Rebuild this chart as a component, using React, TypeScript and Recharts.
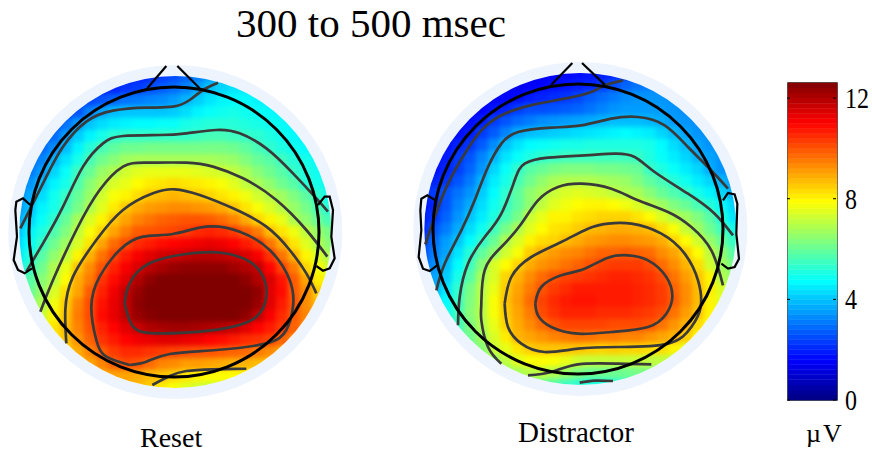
import React from 'react';
import { Bar, BarChart, ReferenceArea, ReferenceDot, Scatter, ScatterChart, XAxis, YAxis } from 'recharts';

const _ = null;

// µV values, one row per 36 scalp units, top row first
const resetGridX = [55, 91, 127, 163, 199, 235, 271, 307, 343, 379, 415, 451, 487, 523, 559, 595, 631, 667, 703, 739, 775, 811, 847, 883, 919, 955, 991];
const resetGridY = [78, 114, 150, 186, 222, 258, 294, 330, 366, 402, 438, 474, 510, 546, 582, 618, 654, 690, 726, 762, 798, 834, 870, 906, 942, 978, 1014];
const resetRows = [
  [_, _, _, _, _, _, _, _, 1.8, 1.9, 2.0, 2.1, 2.3, 2.5, 2.8, 3.1, 3.5, 3.9, 4.2, _, _, _, _, _, _, _, _],
  [_, _, _, _, _, _, 1.7, 1.9, 2.0, 2.2, 2.3, 2.5, 2.7, 2.9, 3.2, 3.6, 4.0, 4.2, 4.4, 4.5, 4.6, _, _, _, _, _, _],
  [_, _, _, _, _, 2.1, 2.4, 2.6, 2.8, 3.0, 3.1, 3.2, 3.3, 3.5, 3.8, 4.1, 4.4, 4.6, 4.7, 4.7, 4.6, 4.5, _, _, _, _, _],
  [_, _, _, _, 2.2, 2.6, 3.2, 3.6, 3.9, 4.0, 4.0, 4.0, 4.0, 4.1, 4.3, 4.6, 4.8, 4.9, 5.0, 4.9, 4.8, 4.7, 4.6, _, _, _, _],
  [_, _, _, 2.3, 3.0, 3.5, 4.0, 4.3, 4.5, 4.6, 4.7, 4.7, 4.8, 4.8, 5.0, 5.1, 5.2, 5.2, 5.2, 5.1, 5.0, 4.9, 4.8, 4.6, _, _, _],
  [_, _, 2.4, 2.9, 3.5, 4.1, 4.6, 5.0, 5.3, 5.4, 5.4, 5.4, 5.4, 5.4, 5.4, 5.5, 5.6, 5.6, 5.5, 5.4, 5.3, 5.1, 4.9, 4.7, 4.5, _, _],
  [_, 2.4, 2.9, 3.3, 3.9, 4.6, 5.2, 5.6, 5.9, 6.1, 6.1, 6.2, 6.2, 6.2, 6.2, 6.2, 6.2, 6.2, 6.1, 5.9, 5.6, 5.3, 5.1, 4.9, 4.7, 4.5, _],
  [_, 2.8, 3.2, 3.8, 4.4, 5.0, 5.6, 6.1, 6.4, 6.7, 6.8, 6.8, 6.8, 6.8, 6.8, 6.8, 6.8, 6.7, 6.6, 6.3, 6.0, 5.8, 5.5, 5.2, 5.0, 4.7, _],
  [2.6, 3.1, 3.5, 4.2, 4.8, 5.5, 6.0, 6.6, 6.9, 7.3, 7.5, 7.6, 7.6, 7.6, 7.6, 7.5, 7.4, 7.3, 7.1, 6.8, 6.4, 6.1, 5.8, 5.4, 5.1, 4.9, 4.7],
  [2.9, 3.4, 4.0, 4.6, 5.0, 5.7, 6.4, 6.9, 7.4, 7.6, 7.9, 8.1, 8.2, 8.3, 8.2, 8.1, 8.0, 7.8, 7.5, 7.1, 6.8, 6.5, 6.1, 5.8, 5.2, 5.0, 4.7],
  [3.2, 3.7, 4.3, 4.9, 5.4, 6.0, 6.6, 7.3, 7.8, 8.0, 8.3, 8.6, 8.7, 8.8, 8.7, 8.6, 8.4, 8.2, 8.0, 7.7, 7.3, 7.0, 6.7, 6.3, 5.9, 5.3, 4.9],
  [3.5, 3.9, 4.6, 5.0, 5.6, 6.2, 6.9, 7.5, 8.1, 8.6, 8.9, 9.1, 9.2, 9.3, 9.3, 9.2, 9.1, 8.9, 8.6, 8.2, 7.8, 7.4, 7.0, 6.6, 6.2, 5.6, 5.2],
  [3.7, 4.2, 4.8, 5.3, 6.0, 6.8, 7.4, 8.0, 8.6, 9.0, 9.4, 9.6, 9.8, 9.9, 10.0, 10.0, 9.9, 9.7, 9.4, 8.9, 8.4, 8.0, 7.6, 6.9, 6.5, 6.0, 5.6],
  [4.0, 4.6, 5.1, 5.7, 6.3, 7.1, 7.8, 8.4, 9.0, 9.5, 9.9, 10.0, 10.1, 10.2, 10.3, 10.5, 10.6, 10.5, 10.3, 9.9, 9.5, 8.7, 8.2, 7.7, 7.1, 6.6, 6.2],
  [4.3, 4.8, 5.4, 6.1, 6.7, 7.4, 8.2, 9.0, 9.7, 10.1, 10.5, 10.7, 10.9, 11.0, 11.1, 11.2, 11.3, 11.2, 11.0, 10.7, 10.4, 9.6, 8.9, 8.2, 7.5, 6.9, 6.4],
  [4.5, 5.1, 5.8, 6.5, 7.1, 8.0, 8.8, 9.6, 10.2, 10.7, 11.1, 11.4, 11.6, 11.7, 11.8, 11.9, 11.9, 11.8, 11.7, 11.5, 11.1, 10.4, 9.6, 8.8, 8.0, 7.4, 6.9],
  [4.7, 5.4, 6.1, 6.9, 7.6, 8.6, 9.3, 10.0, 10.6, 11.1, 11.5, 11.9, 12.1, 12.3, 12.4, 12.4, 12.4, 12.4, 12.2, 12.0, 11.8, 11.0, 10.2, 9.5, 8.4, 7.8, 7.3],
  [5.0, 5.8, 6.4, 7.0, 7.9, 8.9, 9.5, 10.4, 10.9, 11.4, 12.0, 12.4, 12.6, 12.6, 12.6, 12.6, 12.6, 12.6, 12.6, 12.4, 12.0, 11.5, 10.8, 9.9, 9.0, 8.1, 7.6],
  [5.6, 6.0, 6.6, 7.4, 8.3, 9.0, 9.9, 10.6, 11.2, 11.8, 12.3, 12.6, 12.6, 12.6, 12.6, 12.6, 12.6, 12.6, 12.6, 12.6, 12.4, 11.4, 10.9, 9.9, 9.3, 8.5, 8.0],
  [_, 6.3, 6.9, 7.7, 8.5, 9.4, 10.1, 10.8, 11.3, 11.8, 12.4, 12.6, 12.6, 12.6, 12.6, 12.6, 12.6, 12.6, 12.6, 12.6, 12.3, 11.4, 10.7, 10.0, 9.3, 8.7, _],
  [_, 6.6, 7.2, 8.0, 8.6, 9.5, 10.1, 10.9, 11.3, 11.8, 12.3, 12.5, 12.6, 12.6, 12.6, 12.6, 12.6, 12.6, 12.6, 12.4, 11.8, 11.1, 10.5, 9.9, 9.4, 9.0, _],
  [_, _, 7.6, 8.2, 8.7, 9.4, 10.0, 10.6, 11.0, 11.4, 11.7, 12.0, 12.1, 12.2, 12.2, 12.1, 12.0, 11.9, 11.7, 11.4, 11.0, 10.7, 10.3, 9.8, 9.4, _, _],
  [_, _, _, 8.1, 8.6, 9.2, 9.8, 10.4, 10.7, 11.0, 11.2, 11.3, 11.4, 11.4, 11.3, 11.2, 11.0, 10.9, 10.7, 10.5, 10.4, 10.2, 9.8, 9.4, _, _, _],
  [_, _, _, _, 8.4, 8.9, 9.4, 9.9, 10.3, 10.5, 10.5, 10.4, 10.3, 10.2, 10.1, 10.0, 10.0, 9.9, 9.8, 9.7, 9.5, 9.3, 9.0, _, _, _, _],
  [_, _, _, _, _, 8.5, 9.0, 9.4, 9.8, 10.1, 10.0, 9.7, 9.4, 9.3, 9.1, 9.1, 9.0, 8.9, 8.8, 8.8, 8.7, 8.6, _, _, _, _, _],
  [_, _, _, _, _, _, 8.5, 8.8, 9.0, 9.0, 8.9, 8.7, 8.6, 8.4, 8.2, 8.0, 7.9, 7.9, 7.9, 7.9, 7.9, _, _, _, _, _, _],
  [_, _, _, _, _, _, _, _, 9.0, 8.9, 8.7, 8.5, 8.1, 7.8, 7.5, 7.3, 7.2, 7.2, 7.2, _, _, _, _, _, _, _, _],
];

const distractorGridX = [52, 88, 124, 160, 196, 232, 268, 304, 340, 376, 412, 448, 484, 520, 556, 592, 628, 664, 700, 736, 772, 808, 844, 880, 916, 952, 988];
const distractorGridY = [68, 104, 140, 176, 212, 248, 284, 320, 356, 392, 428, 464, 500, 536, 572, 608, 644, 680, 716, 752, 788, 824, 860, 896, 932, 968, 1004];
const distractorRows = [
  [_, _, _, _, _, _, _, _, 1.2, 1.3, 1.4, 1.5, 1.6, 1.7, 1.8, 1.9, 2.0, 2.1, 2.3, _, _, _, _, _, _, _, _],
  [_, _, _, _, _, _, 1.1, 1.2, 1.3, 1.5, 1.6, 1.7, 1.8, 1.9, 2.0, 2.2, 2.5, 2.8, 3.0, 3.1, 3.2, _, _, _, _, _, _],
  [_, _, _, _, _, 1.3, 1.4, 1.6, 1.7, 1.9, 2.0, 2.1, 2.2, 2.4, 2.7, 2.9, 3.1, 3.3, 3.4, 3.4, 3.4, 3.3, _, _, _, _, _],
  [_, _, _, _, 1.3, 1.6, 1.8, 2.0, 2.3, 2.5, 2.5, 2.6, 2.7, 2.8, 3.0, 3.2, 3.4, 3.5, 3.5, 3.5, 3.5, 3.4, 3.3, _, _, _, _],
  [_, _, _, 1.4, 1.7, 1.9, 2.3, 2.6, 2.9, 3.1, 3.3, 3.4, 3.5, 3.6, 3.7, 3.8, 3.9, 3.9, 3.9, 3.8, 3.7, 3.5, 3.4, 3.3, _, _, _],
  [_, _, 1.5, 1.7, 1.9, 2.3, 2.7, 3.2, 3.7, 3.9, 4.0, 4.1, 4.2, 4.3, 4.4, 4.5, 4.6, 4.7, 4.6, 4.5, 4.2, 3.9, 3.6, 3.4, 3.3, _, _],
  [_, 1.5, 1.7, 2.0, 2.2, 2.7, 3.3, 4.0, 4.4, 4.7, 4.8, 4.9, 5.0, 5.0, 5.1, 5.1, 5.1, 5.1, 5.1, 5.0, 4.7, 4.3, 3.9, 3.6, 3.4, 3.2, _],
  [_, 1.7, 1.9, 2.3, 2.6, 3.2, 3.8, 4.4, 4.8, 5.1, 5.3, 5.4, 5.5, 5.5, 5.5, 5.5, 5.5, 5.5, 5.4, 5.1, 4.8, 4.5, 4.2, 3.8, 3.6, 3.4, _],
  [1.4, 1.7, 2.0, 2.3, 2.8, 3.4, 4.2, 4.8, 5.3, 5.8, 6.0, 6.2, 6.3, 6.3, 6.3, 6.2, 6.2, 6.1, 6.0, 5.4, 5.1, 4.8, 4.5, 4.2, 3.7, 3.4, 3.2],
  [1.7, 2.0, 2.2, 2.6, 3.1, 3.8, 4.5, 5.0, 5.6, 6.1, 6.5, 6.8, 6.9, 6.9, 6.9, 6.8, 6.7, 6.6, 6.3, 5.9, 5.6, 5.2, 4.9, 4.5, 4.2, 3.8, 3.5],
  [2.0, 2.3, 2.6, 3.0, 3.4, 4.1, 4.7, 5.3, 5.9, 6.5, 6.8, 7.2, 7.4, 7.5, 7.4, 7.3, 7.1, 6.9, 6.8, 6.4, 6.0, 5.7, 5.4, 5.0, 4.6, 4.2, 3.7],
  [1.8, 2.0, 2.6, 3.2, 3.7, 4.3, 4.9, 5.4, 5.9, 6.5, 7.1, 7.5, 7.7, 7.9, 8.0, 8.0, 7.9, 7.7, 7.4, 7.0, 6.7, 6.3, 6.0, 5.6, 5.2, 4.7, 4.2],
  [1.9, 2.2, 2.8, 3.4, 4.0, 4.5, 5.1, 5.6, 6.2, 7.2, 7.6, 8.0, 8.0, 8.2, 8.3, 8.4, 8.4, 8.4, 8.2, 7.9, 7.4, 7.0, 6.7, 6.3, 5.8, 5.1, 4.4],
  [2.0, 2.6, 3.1, 3.7, 4.3, 4.9, 5.5, 6.2, 6.9, 7.5, 7.9, 8.2, 8.3, 8.5, 8.7, 8.8, 8.9, 8.9, 8.8, 8.7, 8.3, 7.8, 7.2, 6.7, 6.1, 5.5, 5.0],
  [2.2, 2.9, 3.5, 4.0, 4.7, 5.3, 6.0, 6.9, 7.4, 8.0, 8.3, 8.4, 8.7, 8.9, 9.1, 9.2, 9.3, 9.3, 9.2, 9.1, 8.9, 8.4, 7.9, 7.3, 6.6, 6.0, 5.4],
  [2.4, 3.1, 3.6, 4.4, 5.2, 5.9, 6.5, 7.3, 7.8, 8.5, 8.9, 9.1, 9.3, 9.4, 9.6, 9.8, 9.8, 9.9, 9.8, 9.7, 9.3, 9.0, 8.5, 7.9, 7.1, 6.5, 5.8],
  [2.6, 3.3, 3.9, 4.7, 5.5, 6.4, 7.4, 7.9, 8.4, 8.9, 9.2, 9.4, 9.6, 9.8, 10.0, 10.2, 10.3, 10.3, 10.3, 10.1, 9.7, 9.3, 8.8, 8.3, 7.3, 6.7, 6.2],
  [2.8, 3.6, 4.1, 5.0, 5.8, 6.8, 7.4, 8.4, 8.8, 9.3, 9.7, 10.0, 10.2, 10.3, 10.4, 10.5, 10.6, 10.6, 10.5, 10.4, 10.1, 9.6, 9.1, 8.6, 8.0, 6.9, 6.5],
  [3.0, 3.7, 4.4, 5.3, 6.2, 7.0, 7.6, 8.5, 9.0, 9.5, 10.0, 10.3, 10.5, 10.7, 10.7, 10.7, 10.7, 10.7, 10.6, 10.5, 10.3, 9.8, 9.3, 8.7, 8.1, 7.4, 6.9],
  [_, 4.0, 4.7, 5.4, 6.3, 7.0, 7.8, 8.6, 9.1, 9.7, 10.2, 10.5, 10.7, 10.8, 10.8, 10.7, 10.7, 10.7, 10.6, 10.5, 10.3, 9.9, 9.3, 8.7, 8.0, 7.5, _],
  [_, 4.3, 4.9, 5.5, 6.4, 7.0, 7.8, 8.5, 9.0, 9.5, 10.1, 10.4, 10.6, 10.6, 10.6, 10.5, 10.5, 10.5, 10.4, 10.3, 10.1, 9.6, 9.1, 8.6, 8.0, 7.5, _],
  [_, _, 5.1, 5.5, 6.3, 6.9, 7.6, 8.4, 8.9, 9.3, 9.7, 10.0, 10.2, 10.2, 10.2, 10.2, 10.1, 10.1, 10.1, 10.0, 9.6, 9.2, 8.8, 8.3, 7.8, _, _],
  [_, _, _, 5.6, 6.1, 6.7, 7.4, 8.1, 8.8, 9.0, 9.2, 9.4, 9.5, 9.6, 9.6, 9.5, 9.5, 9.4, 9.4, 9.2, 9.0, 8.8, 8.5, 8.0, _, _, _],
  [_, _, _, _, 5.9, 6.4, 7.2, 7.6, 8.2, 8.5, 8.6, 8.6, 8.6, 8.6, 8.5, 8.4, 8.5, 8.4, 8.4, 8.3, 8.3, 8.0, 7.6, _, _, _, _],
  [_, _, _, _, _, 6.0, 6.6, 7.1, 7.5, 7.8, 7.9, 7.8, 7.6, 7.3, 7.2, 7.2, 7.2, 7.2, 7.2, 7.1, 7.1, 7.0, _, _, _, _, _],
  [_, _, _, _, _, _, 6.0, 6.4, 6.8, 7.0, 7.1, 6.9, 6.6, 6.3, 6.1, 6.1, 6.1, 6.1, 6.2, 6.3, 6.3, _, _, _, _, _, _],
  [_, _, _, _, _, _, _, _, 6.2, 6.2, 6.0, 5.8, 5.5, 5.3, 5.1, 5.1, 5.2, 5.3, 5.4, _, _, _, _, _, _, _, _],
];

// contour lines in the same scalp units
const resetContours = [
  [[62, 535], [95, 470], [140, 380], [190, 290], [260, 215], [340, 182], [440, 173], [520, 170], [570, 150], [610, 120], [655, 98]],
  [[80, 665], [130, 580], [190, 470], [250, 350], [310, 280], [370, 258], [480, 255], [560, 250], [650, 240], [720, 250], [800, 295], [880, 370], [950, 445], [985, 485]],
  [[122, 785], [160, 690], [230, 540], [300, 420], [370, 350], [440, 338], [560, 338], [640, 350], [730, 385], [830, 450], [920, 540], [983, 620]],
  [[200, 880], [197, 780], [220, 680], [290, 570], [370, 480], [460, 430], [525, 418], [600, 435], [700, 475], [800, 530], [870, 600], [920, 670], [950, 730]],
  [[390, 945], [320, 920], [290, 870], [275, 770], [300, 680], [360, 600], [430, 560], [520, 552], [620, 530], [720, 545], [810, 600], [870, 690], [880, 770], [860, 840], [800, 880], [650, 900], [510, 912], [440, 935], [390, 945]],
  [[375, 760], [390, 700], [450, 640], [560, 612], [650, 607], [730, 625], [785, 670], [800, 740], [770, 800], [700, 830], [600, 845], [470, 850], [400, 830], [375, 760]],
  [[458, 1005], [510, 978], [560, 963], [640, 958], [740, 956]],
];
const resetOutlines = [
  [[443, 115], [500, 48]],
  [[533, 48], [600, 115]],
  [[92, 465], [70, 445], [50, 455], [47, 480], [52, 560], [42, 630], [55, 660], [75, 670], [97, 655]],
  [[955, 465], [975, 440], [990, 440], [1000, 480], [995, 560], [1005, 625], [990, 655], [970, 662], [950, 648]],
];

const distractorContours = [
  [[62, 582], [90, 500], [130, 400], [180, 310], [230, 240], [300, 190], [400, 160], [480, 145], [560, 125], [600, 105], [655, 90]],
  [[95, 720], [120, 640], [170, 540], [210, 450], [250, 350], [290, 280], [340, 245], [440, 232], [530, 225], [620, 205], [700, 200], [780, 225], [850, 290], [910, 350], [970, 415]],
  [[160, 825], [165, 740], [190, 640], [240, 560], [290, 490], [330, 390], [360, 340], [430, 322], [540, 315], [630, 310], [690, 320], [750, 365], [850, 430], [930, 490], [985, 555]],
  [[290, 940], [250, 890], [230, 810], [230, 760], [240, 660], [290, 590], [350, 520], [400, 450], [460, 410], [530, 400], [620, 415], [700, 450], [790, 485], [860, 530], [920, 600], [955, 705]],
  [[300, 760], [320, 680], [380, 620], [470, 575], [550, 535], [610, 520], [680, 520], [770, 550], [840, 610], [880, 690], [888, 770], [860, 830], [790, 880], [640, 890], [520, 895], [420, 905], [350, 880], [310, 830], [300, 760]],
  [[392, 760], [410, 710], [470, 675], [540, 655], [610, 622], [670, 615], [730, 630], [785, 680], [803, 740], [785, 790], [730, 830], [620, 845], [520, 850], [440, 830], [400, 795], [392, 760]],
  [[370, 975], [440, 965], [520, 942], [640, 940], [740, 942]],
  [[525, 997], [570, 991], [625, 992]],
];
const distractorOutlines = [
  [[440, 103], [503, 38]],
  [[532, 38], [600, 103]],
  [[92, 450], [68, 435], [50, 445], [47, 480], [50, 540], [42, 620], [55, 655], [75, 662], [97, 645]],
  [[955, 450], [970, 428], [990, 432], [998, 460], [995, 550], [1003, 625], [990, 650], [970, 655], [950, 640]],
];

const barLevels = [
  0, 0.2, 0.4, 0.6, 0.8, 1, 1.2, 1.4, 1.6, 1.8, 2, 2.2, 2.4, 2.6, 2.8, 3, 3.2, 3.4, 3.6, 3.8, 4,
  4.2, 4.4, 4.6, 4.8, 5, 5.2, 5.4, 5.6, 5.8, 6, 6.2, 6.4, 6.6, 6.8, 7, 7.2, 7.4, 7.6, 7.8, 8,
  8.2, 8.4, 8.6, 8.8, 9, 9.2, 9.4, 9.6, 9.8, 10, 10.2, 10.4, 10.6, 10.8, 11, 11.2, 11.4, 11.6, 11.8, 12, 12.2, 12.4,
];
const barTicks = [0, 4, 8, 12];

const V_MAX = 12.6;
const SERIF = '"Liberation Serif", "Times New Roman", serif';

const jet = (v: number) => {
  const t = Math.min(1, Math.max(0, v / V_MAX));
  const ch = (c: number) => Math.round(255 * Math.min(1, Math.max(0, 1.5 - Math.abs(4 * t - c))));
  return `rgb(${ch(3)},${ch(2)},${ch(1)})`;
};

const toPoints = (line: number[][]) => line.map(([x, y]) => ({ x, y }));
const toCells = (xs: number[], ys: number[], rows: (number | null)[][]) => {
  const cells: { x: number; y: number; v: number }[] = [];
  rows.forEach((row, i) => {
    row.forEach((v, j) => {
      if (v !== null) cells.push({ x: xs[j], y: ys[i], v });
    });
  });
  return cells;
};

const Cell = (props: any) => (
  <rect x={props.cx - 6.25} y={props.cy - 6.25} width={12.5} height={12.5} fill={jet(props.payload.v)} />
);
const NoDot = () => <g />;

type HeadProps = {
  name: string;
  left: number;
  top: number;
  cx: number;
  cy: number;
  discX: number;
  discY: number;
  gridX: number[];
  gridY: number[];
  rows: (number | null)[][];
  contours: number[][][];
  outlines: number[][][];
};

const Head: React.FC<HeadProps> = ({ name, left, top, cx, cy, discX, discY, gridX, gridY, rows, contours, outlines }) => {
  const clipX = (discX - cx + 510) / 3;
  const clipY = (discY - cy + 510) / 3;
  return (
    <div style={{ position: 'absolute', left, top }}>
      <style>{`.cells-${name} { filter: blur(2.6px); clip-path: circle(156px at ${clipX}px ${clipY}px) view-box; }`}</style>
      <ScatterChart width={340} height={340} margin={{ top: 0, right: 0, bottom: 0, left: 0 }}>
        <XAxis type='number' dataKey='x' domain={[cx - 510, cx + 510]} hide allowDataOverflow />
        <YAxis type='number' dataKey='y' domain={[cy - 510, cy + 510]} reversed hide allowDataOverflow />
        <ReferenceDot x={discX} y={discY} r={161.5} fill='none' stroke='#edf4fd' strokeWidth={11} ifOverflow='visible' />
        <Scatter className={`cells-${name}`} data={toCells(gridX, gridY, rows)} shape={Cell} isAnimationActive={false} />
        {contours.map((line, i) => (
          <Scatter
            key={`contour-${i}`}
            data={toPoints(line)}
            line={{ stroke: '#3a3a3a', strokeWidth: 2.7 }}
            lineJointType='natural'
            shape={NoDot}
            isAnimationActive={false}
          />
        ))}
        {outlines.map((line, i) => (
          <Scatter
            key={`outline-${i}`}
            data={toPoints(line)}
            line={{ stroke: '#000', strokeWidth: 2.2 }}
            shape={NoDot}
            isAnimationActive={false}
          />
        ))}
        <ReferenceDot x={cx} y={cy} r={145} fill='none' stroke='#000' strokeWidth={3} ifOverflow='visible' />
      </ScatterChart>
    </div>
  );
};

// digits in the reference are taller than they are wide
const BarTick = (props: any) => {
  const { x, y, payload } = props;
  return (
    <g transform={`translate(${x},${y})`}>
      <line x1={-58} x2={-55} y1={0} y2={0} stroke='#000' />
      <line x1={-12} x2={-9} y1={0} y2={0} stroke='#000' />
      <text transform='scale(1,1.2)' x={0} y={0} dy='0.34em' fontFamily={SERIF} fontSize={24} fill='#000'>
        {payload.value}
      </text>
    </g>
  );
};

const ColorBar = () => {
  const row: Record<string, number | string> = { name: 'µV' };
  barLevels.forEach((_level, i) => {
    row[`l${i}`] = 0.2;
  });
  return (
    <div style={{ position: 'absolute', left: 770, top: 70 }}>
      <BarChart width={102} height={345} data={[row]} margin={{ top: 13, right: 0, bottom: 15, left: 18 }} barCategoryGap={0}>
        <XAxis dataKey='name' hide />
        <YAxis
          orientation='right'
          type='number'
          domain={[0, V_MAX]}
          ticks={barTicks}
          width={35}
          axisLine={false}
          tickLine={false}
          tick={BarTick}
          interval={0}
        />
        {barLevels.map((level, i) => (
          <Bar
            key={level}
            dataKey={`l${i}`}
            stackId='bar'
            fill={jet(level + 0.1)}
            stroke={jet(level + 0.1)}
            strokeWidth={0.5}
            isAnimationActive={false}
          />
        ))}
        <ReferenceArea y1={0} y2={V_MAX} fill='none' stroke='#222' strokeWidth={1.5} ifOverflow='visible' />
      </BarChart>
    </div>
  );
};

const labelStyle = (left: number, top: number, fontSize: number, lineHeight: number, letterSpacing = 0): React.CSSProperties => ({
  position: 'absolute',
  left,
  top,
  fontFamily: SERIF,
  fontSize,
  lineHeight: `${lineHeight}px`,
  letterSpacing,
  color: '#000',
  whiteSpace: 'nowrap',
});

export default function App() {
  return (
    <div style={{ position: 'absolute', left: 0, top: 0, width: 872, height: 449, background: '#fff', overflow: 'hidden' }}>
      <Head name='reset' left={4.33} top={62} cx={523} cy={546} discX={527} discY={546} gridX={resetGridX} gridY={resetGridY} rows={resetRows} contours={resetContours} outlines={resetOutlines} />
      <Head name='distractor' left={408.33} top={58.67} cx={520} cy={536} discX={527} discY={536} gridX={distractorGridX} gridY={distractorGridY} rows={distractorRows} contours={distractorContours} outlines={distractorOutlines} />
      <ColorBar />
      <div style={labelStyle(236, 3, 41, 41)}>300 to 500 msec</div>
      <div style={labelStyle(140, 426.5, 28, 22)}>Reset</div>
      <div style={labelStyle(518, 418, 29, 29)}>Distractor</div>
      <div style={labelStyle(806, 422, 26, 24, 2)}>µV</div>
    </div>
  );
}
